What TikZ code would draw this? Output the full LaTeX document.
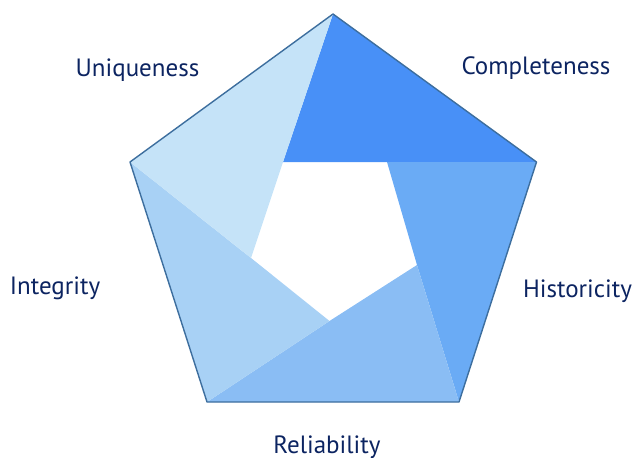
\documentclass[tikz,border=0pt]{standalone}
\usepackage{fontspec}
\setmainfont{PT Sans}
\definecolor{edgeblue}{HTML}{3D6E9E}
\definecolor{txtnavy}{HTML}{0C2461}
\definecolor{segA}{HTML}{4890F7}
\definecolor{segB}{HTML}{6AABF5}
\definecolor{segC}{HTML}{8ABDF4}
\definecolor{segD}{HTML}{A8D1F5}
\definecolor{segE}{HTML}{C5E3F8}
\tikzset{
  lbl/.style={anchor=base,inner sep=0pt,text=txtnavy,font=\fontsize{25}{30}\selectfont},
}
\begin{document}
\begin{tikzpicture}[x=1pt,y=-1pt]
			\useasboundingbox (0,0) rectangle (636,457);
			% outer corners
			\coordinate (T) at (333,14);
			\coordinate (R) at (536.5,162);
			\coordinate (BR) at (459,402);
			\coordinate (BL) at (207,402);
			\coordinate (L) at (130,162);
			% inner corners
			\coordinate (iTL) at (283,162);
			\coordinate (iTR) at (387,162);
			\coordinate (iR) at (417,265);
			\coordinate (iB) at (329.5,321);
			\coordinate (iL) at (251,258);
			\fill[segA](T)--(R)--(iTR)--(iTL)--cycle;
			\fill[segB](R)--(BR)--(iR)--(iTR)--cycle;
			\fill[segC](BR)--(BL)--(iB)--(iR)--cycle;
			\fill[segD](BL)--(L)--(iL)--(iB)--cycle;
			\fill[segE](L)--(T)--(iTL)--(iL)--cycle;
			\draw[edgeblue,line width=1.4pt,line join=round](T)--(R)--(BR)--(BL)--(L)--cycle;
			\node[lbl] (uniq) at (137.5,76.7) {Uniqueness};
			\node[lbl] (compl) at (536,74.5) {Completeness};
			\node[lbl] (integ) at (55,294) {Integrity};
			\node[lbl] (hist) at (577.5,297.7) {Historicity};
			\node[lbl] (reli) at (327,453) {Reliability};
		\end{tikzpicture}
\end{document}
